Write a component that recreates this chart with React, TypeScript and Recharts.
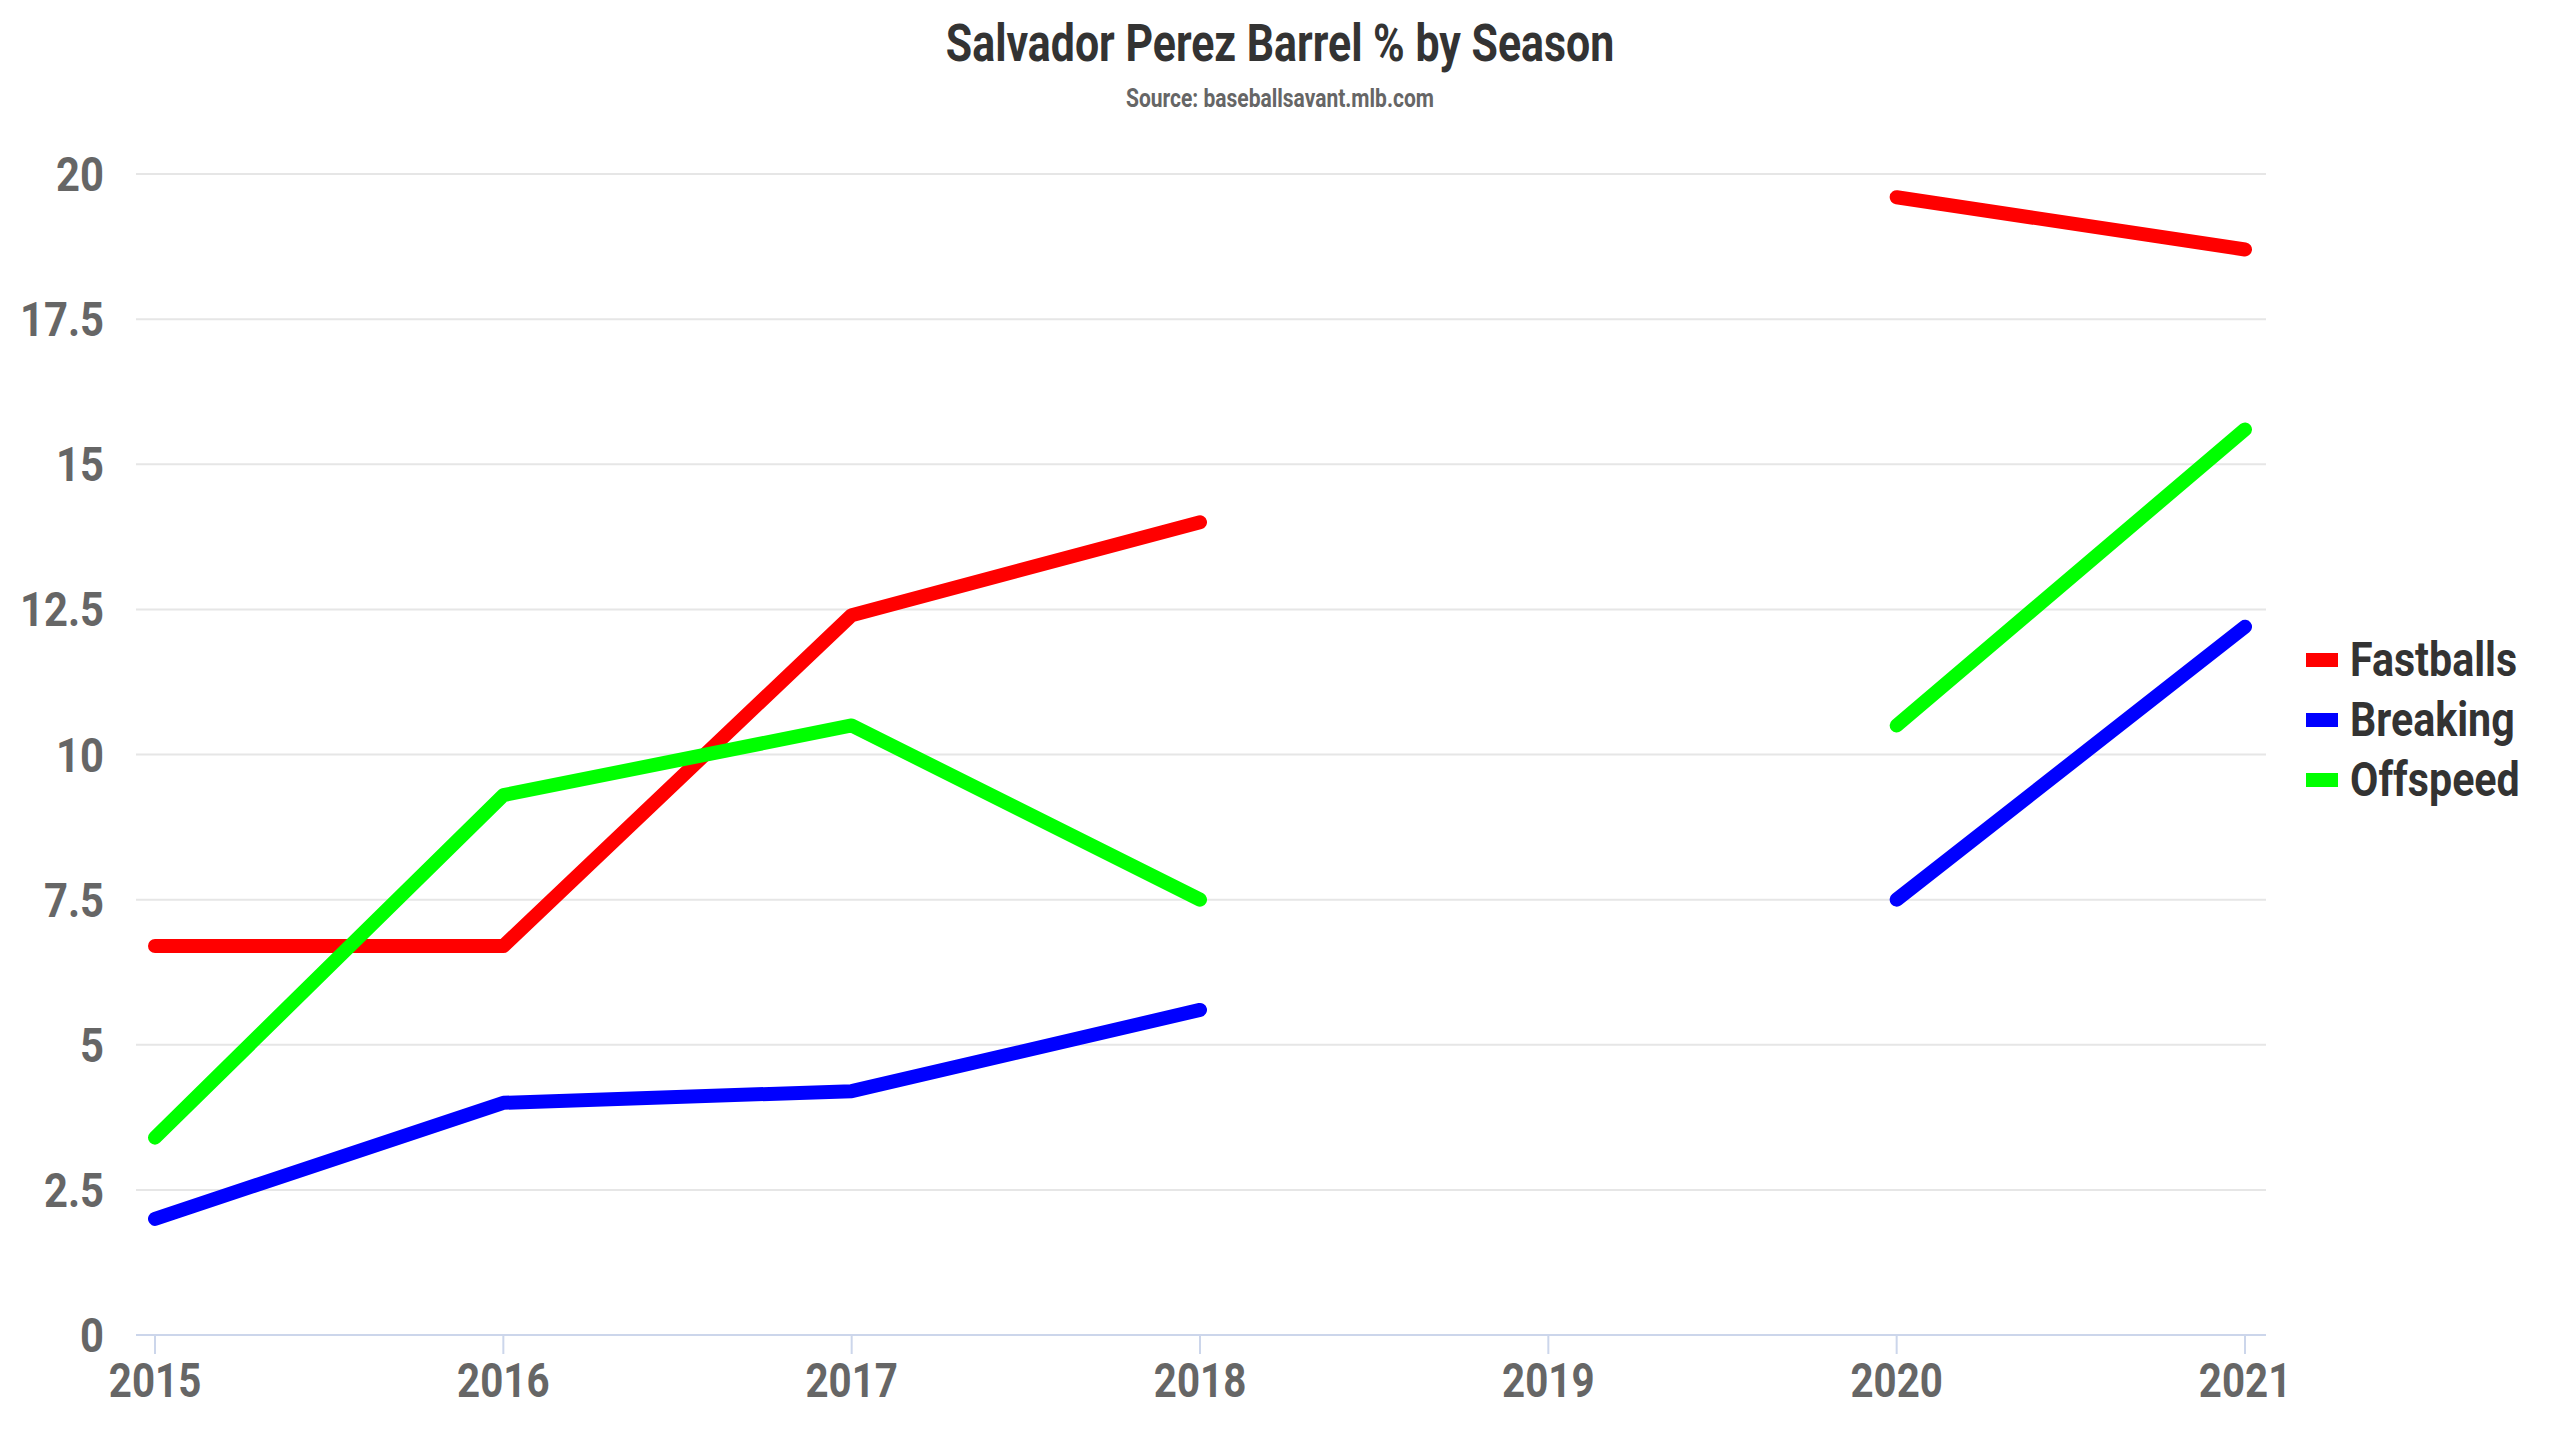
import React from "react";
import { CartesianGrid, Legend, Line, LineChart, XAxis, YAxis } from "recharts";

const seasons = [2015, 2016, 2017, 2018, 2019, 2020, 2021];
const fastballs = [6.7, 6.7, 12.4, 14.0, null, 19.6, 18.7];
const breaking = [2.0, 4.0, 4.2, 5.6, null, 7.5, 12.2];
const offspeed = [3.4, 9.3, 10.5, 7.5, null, 10.5, 15.6];
const yTicks = [0, 2.5, 5, 7.5, 10, 12.5, 15, 17.5, 20];
const seriesNames = ["Fastballs", "Breaking", "Offspeed"];
const seriesColors = ["#ff0000", "#0000ff", "#00ff00"];

const titleText = "Salvador Perez Barrel % by Season";
const subtitleText = "Source: baseballsavant.mlb.com";

const font = "Roboto, sans-serif";
const squeeze = 0.84;

const data = seasons.map((season, i) => ({
  season,
  Fastballs: fastballs[i],
  Breaking: breaking[i],
  Offspeed: offspeed[i]
}));

const YTick = (props: any) => {
  const { x, y, payload } = props;
  return (
    <g transform={`translate(${x},${y})`}>
      <text
        transform={`scale(0.87,1)`}
        textAnchor="end"
        dy="0.355em"
        fill="#666666"
        fontSize={48}
        fontWeight={700}
        fontFamily={font}>
        {payload.value}
      </text>
    </g>
  );
};

const XTick = (props: any) => {
  const { x, y, payload } = props;
  return (
    <g transform={`translate(${x},${y})`}>
      <text
        transform={`scale(${squeeze},1)`}
        textAnchor="middle"
        dy="0.71em"
        fill="#666666"
        fontSize={48}
        fontWeight={700}
        fontFamily={font}>
        {payload.value}
      </text>
    </g>
  );
};

// keep the series order instead of the alphabetical one
const LegendList = (props: any) => {
  const items = [...(props.payload || [])].sort(
    (a: any, b: any) => seriesNames.indexOf(a.value) - seriesNames.indexOf(b.value)
  );
  return (
    <div>
      {items.map((entry: any) => (
        <div key={entry.value} style={{ display: "flex", alignItems: "center", height: 60 }}>
          <span style={{ display: "inline-block", width: 32, height: 14, background: entry.color, marginRight: 12 }} />
          <span
            style={{
              display: "inline-block",
              fontFamily: font,
              fontSize: 49,
              fontWeight: 700,
              color: "#333333",
              lineHeight: "60px",
              transform: `scaleX(${squeeze})`,
              transformOrigin: "left center",
              whiteSpace: "nowrap"
            }}>
            {entry.value}
          </span>
        </div>
      ))}
    </div>
  );
};

export default function App() {
  return (
    <div style={{ position: "absolute", left: 0, top: 0, width: 2560, height: 1440, background: "#ffffff" }}>
      <div
        style={{
          position: "absolute",
          left: 0,
          top: 18,
          width: 2560,
          textAlign: "center",
          fontFamily: font,
          fontSize: 51,
          fontWeight: 700,
          lineHeight: "51px",
          color: "#333333",
          transform: `scaleX(${squeeze})`
        }}>
        {titleText}
      </div>
      <div
        style={{
          position: "absolute",
          left: 0,
          top: 86,
          width: 2560,
          textAlign: "center",
          fontFamily: font,
          fontSize: 25,
          fontWeight: 700,
          lineHeight: "25px",
          color: "#666666",
          transform: `scaleX(${squeeze})`
        }}>
        {subtitleText}
      </div>
      <div style={{ position: "absolute", left: 0, top: 0 }}>
        <LineChart width={2560} height={1440} data={data} margin={{ top: 174, right: 294, bottom: 25, left: 36 }}>
          <CartesianGrid vertical={false} stroke="#e6e6e6" strokeWidth={2} />
          <XAxis
            dataKey="season"
            type="number"
            domain={[2015, 2021]}
            ticks={seasons}
            interval={0}
            padding={{ left: 19, right: 21 }}
            height={80}
            stroke="#ccd6eb"
            strokeWidth={2}
            tickSize={19}
            tickMargin={9}
            tick={<XTick />}
          />
          <YAxis
            type="number"
            domain={[0, 20]}
            ticks={yTicks}
            interval={0}
            width={100}
            axisLine={false}
            tickLine={false}
            tickSize={0}
            tickMargin={32}
            tick={<YTick />}
          />
          <Legend
            layout="vertical"
            align="center"
            verticalAlign="middle"
            content={<LegendList />}
            wrapperStyle={{ left: 2306, top: 630, width: 250 }}
          />
          {seriesNames.map((name, i) => (
            <Line
              key={name}
              type="linear"
              dataKey={name}
              name={name}
              stroke={seriesColors[i]}
              strokeWidth={14}
              strokeLinecap="round"
              strokeLinejoin="round"
              dot={false}
              activeDot={false}
              connectNulls={false}
              isAnimationActive={false}
            />
          ))}
        </LineChart>
      </div>
    </div>
  );
}
